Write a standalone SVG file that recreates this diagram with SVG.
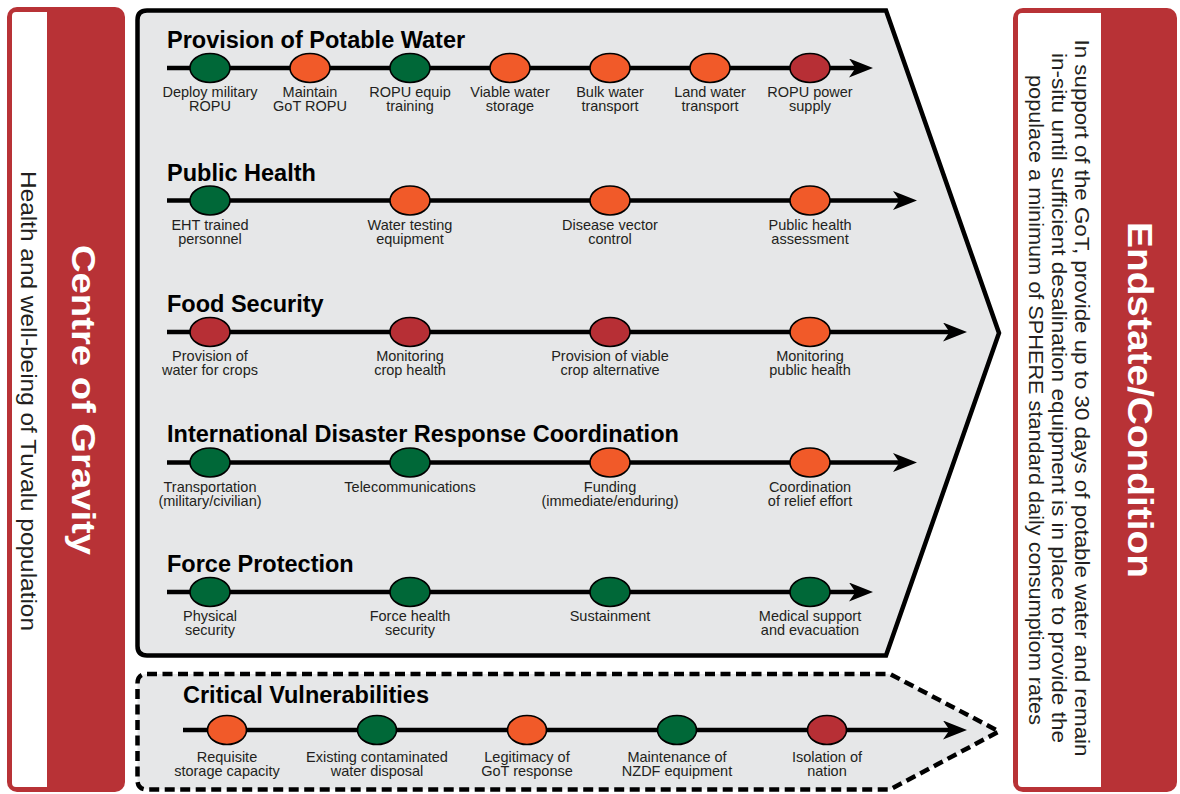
<svg xmlns="http://www.w3.org/2000/svg" width="1180" height="794" viewBox="0 0 1180 794">
  <style>
    .panel { fill: #e6e7e8; stroke: #000; stroke-width: 4.5; stroke-linejoin: miter; }
    .dashed { stroke-dasharray: 10 5.5; }
    .red { fill: #b83236; }
    .white { fill: #ffffff; }
    .head { font-family: "Liberation Sans", Arial, sans-serif; font-weight: bold; font-size: 23.5px; fill: #000; }
    .lbl { font-family: "Liberation Sans", Arial, sans-serif; font-size: 14.5px; fill: #231f20; text-anchor: middle; }
    .side { font-family: "Liberation Sans", Arial, sans-serif; fill: #231f20; text-anchor: middle; }
    .title { font-family: "Liberation Sans", Arial, sans-serif; font-weight: bold; fill: #ffffff; text-anchor: middle; }
    .track { stroke: #000; stroke-width: 4.5; fill: none; marker-end: url(#arrow); }
    ellipse { stroke: #000; stroke-width: 1.6; }
    .g { fill: #006838; }
    .o { fill: #f15a29; }
    .r { fill: #b72f35; }
  </style>
  <defs>
    <marker id="arrow" viewBox="0 0 24 19" refX="8" refY="9.5" markerWidth="24" markerHeight="19" markerUnits="userSpaceOnUse" orient="auto">
      <path d="M0,0 L24,9.5 L0,19 L6.5,9.5 Z" fill="#000"/>
    </marker>
  </defs>

  <!-- Centre of gravity panel (left) -->
  <g id="centre-of-gravity">
    <rect class="red" x="7" y="7" width="118" height="785" rx="10"/>
    <path class="white" d="M47,12 H16 Q12,12 12,16 V783 Q12,787 16,787 H47 Z"/>
    <text class="side" font-size="22" textLength="460" lengthAdjust="spacingAndGlyphs" transform="translate(21,401) rotate(90)">Health and well-being of Tuvalu population</text>
    <text class="title" font-size="33" textLength="310" lengthAdjust="spacingAndGlyphs" transform="translate(72,400) rotate(90)">Centre of Gravity</text>
  </g>

  <!-- Endstate panel (right) -->
  <g id="endstate">
    <rect class="red" x="1013" y="8" width="164" height="784" rx="10"/>
    <path class="white" d="M1101,13 H1022 Q1018,13 1018,17 V783 Q1018,787 1022,787 H1101 Z"/>
    <text class="side" font-size="20" textLength="717" lengthAdjust="spacingAndGlyphs" transform="translate(1075,398) rotate(90)">In support of the GoT, provide up to 30 days of potable water and remain</text>
    <text class="side" font-size="20" textLength="690" lengthAdjust="spacingAndGlyphs" transform="translate(1052,398) rotate(90)">in-situ until sufficient desalination equipment is in place to provide the</text>
    <text class="side" font-size="20" textLength="650" lengthAdjust="spacingAndGlyphs" transform="translate(1029,400) rotate(90)">populace a minimum of SPHERE standard daily consumptiom rates</text>
    <text class="title" font-size="35" textLength="356" lengthAdjust="spacingAndGlyphs" transform="translate(1128,400) rotate(90)">Endstate/Condition</text>
  </g>

  <!-- Lines of operation frame -->
  <g id="lines-of-operation">
    <path class="panel" d="M147,10.5 H886 L999,333 L886,655.5 H147 Q137.5,655.5 137.5,646 V20 Q137.5,10.5 147,10.5 Z"/>
  </g>

  <!-- Critical vulnerabilities frame -->
  <g id="critical-vulnerabilities">
    <path class="panel dashed" d="M147,674 H890 L999,731.5 L890,789.5 H147 Q137.5,789.5 137.5,780 V683.5 Q137.5,674 147,674 Z"/>
  </g>

  <!-- Timeline tracks -->
  <g id="connectors">
    <line class="track" x1="167" y1="68" x2="857" y2="68"/>
    <line class="track" x1="167" y1="200.5" x2="901" y2="200.5"/>
    <line class="track" x1="167" y1="332" x2="951" y2="332"/>
    <line class="track" x1="167" y1="462.5" x2="901" y2="462.5"/>
    <line class="track" x1="167" y1="592" x2="857" y2="592"/>
    <line class="track" x1="183" y1="730" x2="951" y2="730"/>
  </g>

  <!-- Provision of Potable Water -->
  <g id="potable-water">
    <text class="head" x="167" y="48">Provision of Potable Water</text>
    <g id="pw-1"><ellipse class="g" cx="210" cy="68" rx="20" ry="14.5"/><text class="lbl" x="210" y="97">Deploy military<tspan x="210" dy="14">ROPU</tspan></text></g>
    <g id="pw-2"><ellipse class="o" cx="310" cy="68" rx="20" ry="14.5"/><text class="lbl" x="310" y="97">Maintain<tspan x="310" dy="14">GoT ROPU</tspan></text></g>
    <g id="pw-3"><ellipse class="g" cx="410" cy="68" rx="20" ry="14.5"/><text class="lbl" x="410" y="97">ROPU equip<tspan x="410" dy="14">training</tspan></text></g>
    <g id="pw-4"><ellipse class="o" cx="510" cy="68" rx="20" ry="14.5"/><text class="lbl" x="510" y="97">Viable water<tspan x="510" dy="14">storage</tspan></text></g>
    <g id="pw-5"><ellipse class="o" cx="610" cy="68" rx="20" ry="14.5"/><text class="lbl" x="610" y="97">Bulk water<tspan x="610" dy="14">transport</tspan></text></g>
    <g id="pw-6"><ellipse class="o" cx="710" cy="68" rx="20" ry="14.5"/><text class="lbl" x="710" y="97">Land water<tspan x="710" dy="14">transport</tspan></text></g>
    <g id="pw-7"><ellipse class="r" cx="810" cy="68" rx="20" ry="14.5"/><text class="lbl" x="810" y="97">ROPU power<tspan x="810" dy="14">supply</tspan></text></g>
  </g>

  <!-- Public Health -->
  <g id="public-health">
    <text class="head" x="167" y="181">Public Health</text>
    <g id="ph-1"><ellipse class="g" cx="210" cy="200.5" rx="20" ry="14.5"/><text class="lbl" x="210" y="229.5">EHT trained<tspan x="210" dy="14">personnel</tspan></text></g>
    <g id="ph-2"><ellipse class="o" cx="410" cy="200.5" rx="20" ry="14.5"/><text class="lbl" x="410" y="229.5">Water testing<tspan x="410" dy="14">equipment</tspan></text></g>
    <g id="ph-3"><ellipse class="o" cx="610" cy="200.5" rx="20" ry="14.5"/><text class="lbl" x="610" y="229.5">Disease vector<tspan x="610" dy="14">control</tspan></text></g>
    <g id="ph-4"><ellipse class="o" cx="810" cy="200.5" rx="20" ry="14.5"/><text class="lbl" x="810" y="229.5">Public health<tspan x="810" dy="14">assessment</tspan></text></g>
  </g>

  <!-- Food Security -->
  <g id="food-security">
    <text class="head" x="167" y="312">Food Security</text>
    <g id="fs-1"><ellipse class="r" cx="210" cy="332" rx="20" ry="14.5"/><text class="lbl" x="210" y="361">Provision of<tspan x="210" dy="14">water for crops</tspan></text></g>
    <g id="fs-2"><ellipse class="r" cx="410" cy="332" rx="20" ry="14.5"/><text class="lbl" x="410" y="361">Monitoring<tspan x="410" dy="14">crop health</tspan></text></g>
    <g id="fs-3"><ellipse class="r" cx="610" cy="332" rx="20" ry="14.5"/><text class="lbl" x="610" y="361">Provision of viable<tspan x="610" dy="14">crop alternative</tspan></text></g>
    <g id="fs-4"><ellipse class="o" cx="810" cy="332" rx="20" ry="14.5"/><text class="lbl" x="810" y="361">Monitoring<tspan x="810" dy="14">public health</tspan></text></g>
  </g>

  <!-- International Disaster Response Coordination -->
  <g id="disaster-response">
    <text class="head" x="167" y="442">International Disaster Response Coordination</text>
    <g id="dr-1"><ellipse class="g" cx="210" cy="462.5" rx="20" ry="14.5"/><text class="lbl" x="210" y="492">Transportation<tspan x="210" dy="14">(military/civilian)</tspan></text></g>
    <g id="dr-2"><ellipse class="g" cx="410" cy="462.5" rx="20" ry="14.5"/><text class="lbl" x="410" y="492">Telecommunications</text></g>
    <g id="dr-3"><ellipse class="o" cx="610" cy="462.5" rx="20" ry="14.5"/><text class="lbl" x="610" y="492">Funding<tspan x="610" dy="14">(immediate/enduring)</tspan></text></g>
    <g id="dr-4"><ellipse class="o" cx="810" cy="462.5" rx="20" ry="14.5"/><text class="lbl" x="810" y="492">Coordination<tspan x="810" dy="14">of relief effort</tspan></text></g>
  </g>

  <!-- Force Protection -->
  <g id="force-protection">
    <text class="head" x="167" y="572">Force Protection</text>
    <g id="fp-1"><ellipse class="g" cx="210" cy="592" rx="20" ry="14.5"/><text class="lbl" x="210" y="621">Physical<tspan x="210" dy="14">security</tspan></text></g>
    <g id="fp-2"><ellipse class="g" cx="410" cy="592" rx="20" ry="14.5"/><text class="lbl" x="410" y="621">Force health<tspan x="410" dy="14">security</tspan></text></g>
    <g id="fp-3"><ellipse class="g" cx="610" cy="592" rx="20" ry="14.5"/><text class="lbl" x="610" y="621">Sustainment</text></g>
    <g id="fp-4"><ellipse class="g" cx="810" cy="592" rx="20" ry="14.5"/><text class="lbl" x="810" y="621">Medical support<tspan x="810" dy="14">and evacuation</tspan></text></g>
  </g>

  <!-- Critical Vulnerabilities -->
  <g id="vulnerabilities">
    <text class="head" x="183" y="703">Critical Vulnerabilities</text>
    <g id="cv-1"><ellipse class="o" cx="227" cy="730" rx="19.5" ry="14.5"/><text class="lbl" x="227" y="761.5">Requisite<tspan x="227" dy="14">storage capacity</tspan></text></g>
    <g id="cv-2"><ellipse class="g" cx="377" cy="730" rx="19.5" ry="14.5"/><text class="lbl" x="377" y="761.5">Existing contaminated<tspan x="377" dy="14">water disposal</tspan></text></g>
    <g id="cv-3"><ellipse class="o" cx="527" cy="730" rx="19.5" ry="14.5"/><text class="lbl" x="527" y="761.5">Legitimacy of<tspan x="527" dy="14">GoT response</tspan></text></g>
    <g id="cv-4"><ellipse class="g" cx="677" cy="730" rx="19.5" ry="14.5"/><text class="lbl" x="677" y="761.5">Maintenance of<tspan x="677" dy="14">NZDF equipment</tspan></text></g>
    <g id="cv-5"><ellipse class="r" cx="827" cy="730" rx="19.5" ry="14.5"/><text class="lbl" x="827" y="761.5">Isolation of<tspan x="827" dy="14">nation</tspan></text></g>
  </g>
</svg>
